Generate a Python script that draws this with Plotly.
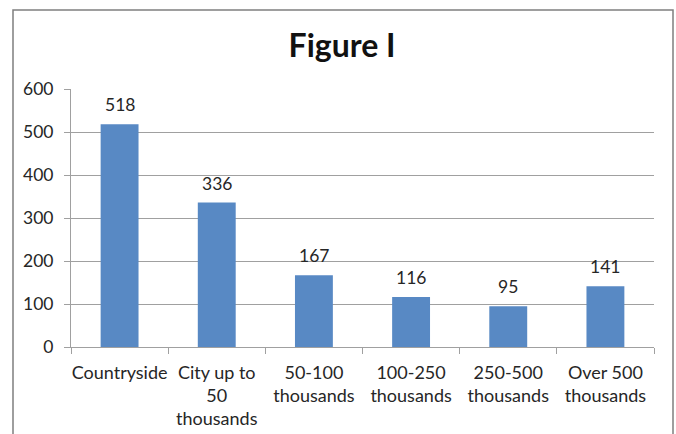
import plotly.graph_objects as go

# Settlement size categories and counts
categories = [
    "Countryside",
    "City up to<br>50<br>thousands",
    "50-100<br>thousands",
    "100-250<br>thousands",
    "250-500<br>thousands",
    "Over 500<br>thousands",
]
counts = [518, 336, 167, 116, 95, 141]
y_ticks = [0, 100, 200, 300, 400, 500, 600]

W, H = 676, 434
L, R, T, B = 71, 22, 89, 87
pw, ph = W - L - R, H - T - B

font_family = "Lato, Open Sans, sans-serif"
text_color = "#262626"
bar_color = "#5889C4"
grid_color = "#A0A0A0"

fig = go.Figure(
    go.Bar(
        x=categories,
        y=counts,
        marker=dict(color=bar_color, line=dict(width=0)),
        width=0.39,
        hoverinfo="x+y",
    )
)

# Value labels above each bar
for c, v in zip(categories, counts):
    fig.add_annotation(
        x=c, y=v, text=str(v), showarrow=False,
        yanchor="bottom", yshift=7,
        font=dict(family=font_family, size=17.5, color=text_color),
    )

# Outer chart frame
fig.add_shape(
    type="rect", xref="paper", yref="paper",
    x0=(13 - L) / pw, x1=(673 - L) / pw,
    y0=(H - T - 445) / ph, y1=(H - B - 10) / ph,
    line=dict(color="#7F7F7F", width=1.5),
    fillcolor="rgba(0,0,0,0)", layer="below",
)

fig.update_layout(
    width=W, height=H,
    margin=dict(l=L, r=R, t=T, b=B, autoexpand=False),
    paper_bgcolor="white", plot_bgcolor="white",
    showlegend=False,
    bargap=0.61,
    title=dict(
        text="<b>Figure I</b>", x=0.506, xref="container", xanchor="center",
        y=1 - 46 / H, yanchor="middle",
        font=dict(family=font_family, size=32, color="#111111"),
    ),
    font=dict(family=font_family, size=17.5, color=text_color),
)

fig.update_xaxes(
    type="category",
    automargin=False,
    tickangle=0,
    showgrid=False,
    showline=True, linecolor=grid_color, linewidth=1,
    ticks="outside", tickson="boundaries", ticklen=6, tickcolor=grid_color,
    ticklabelstandoff=9,
    tickfont=dict(family=font_family, size=18, color=text_color),
)
fig.update_yaxes(
    range=[0, 600],
    automargin=False,
    tickvals=y_ticks,
    showgrid=True, gridcolor=grid_color, gridwidth=1,
    showline=True, linecolor=grid_color, linewidth=1,
    ticks="outside", ticklen=6, tickcolor=grid_color,
    ticklabelstandoff=7,
    zeroline=False,
    tickfont=dict(family=font_family, size=17.5, color=text_color),
)

fig.write_html("out.html")
